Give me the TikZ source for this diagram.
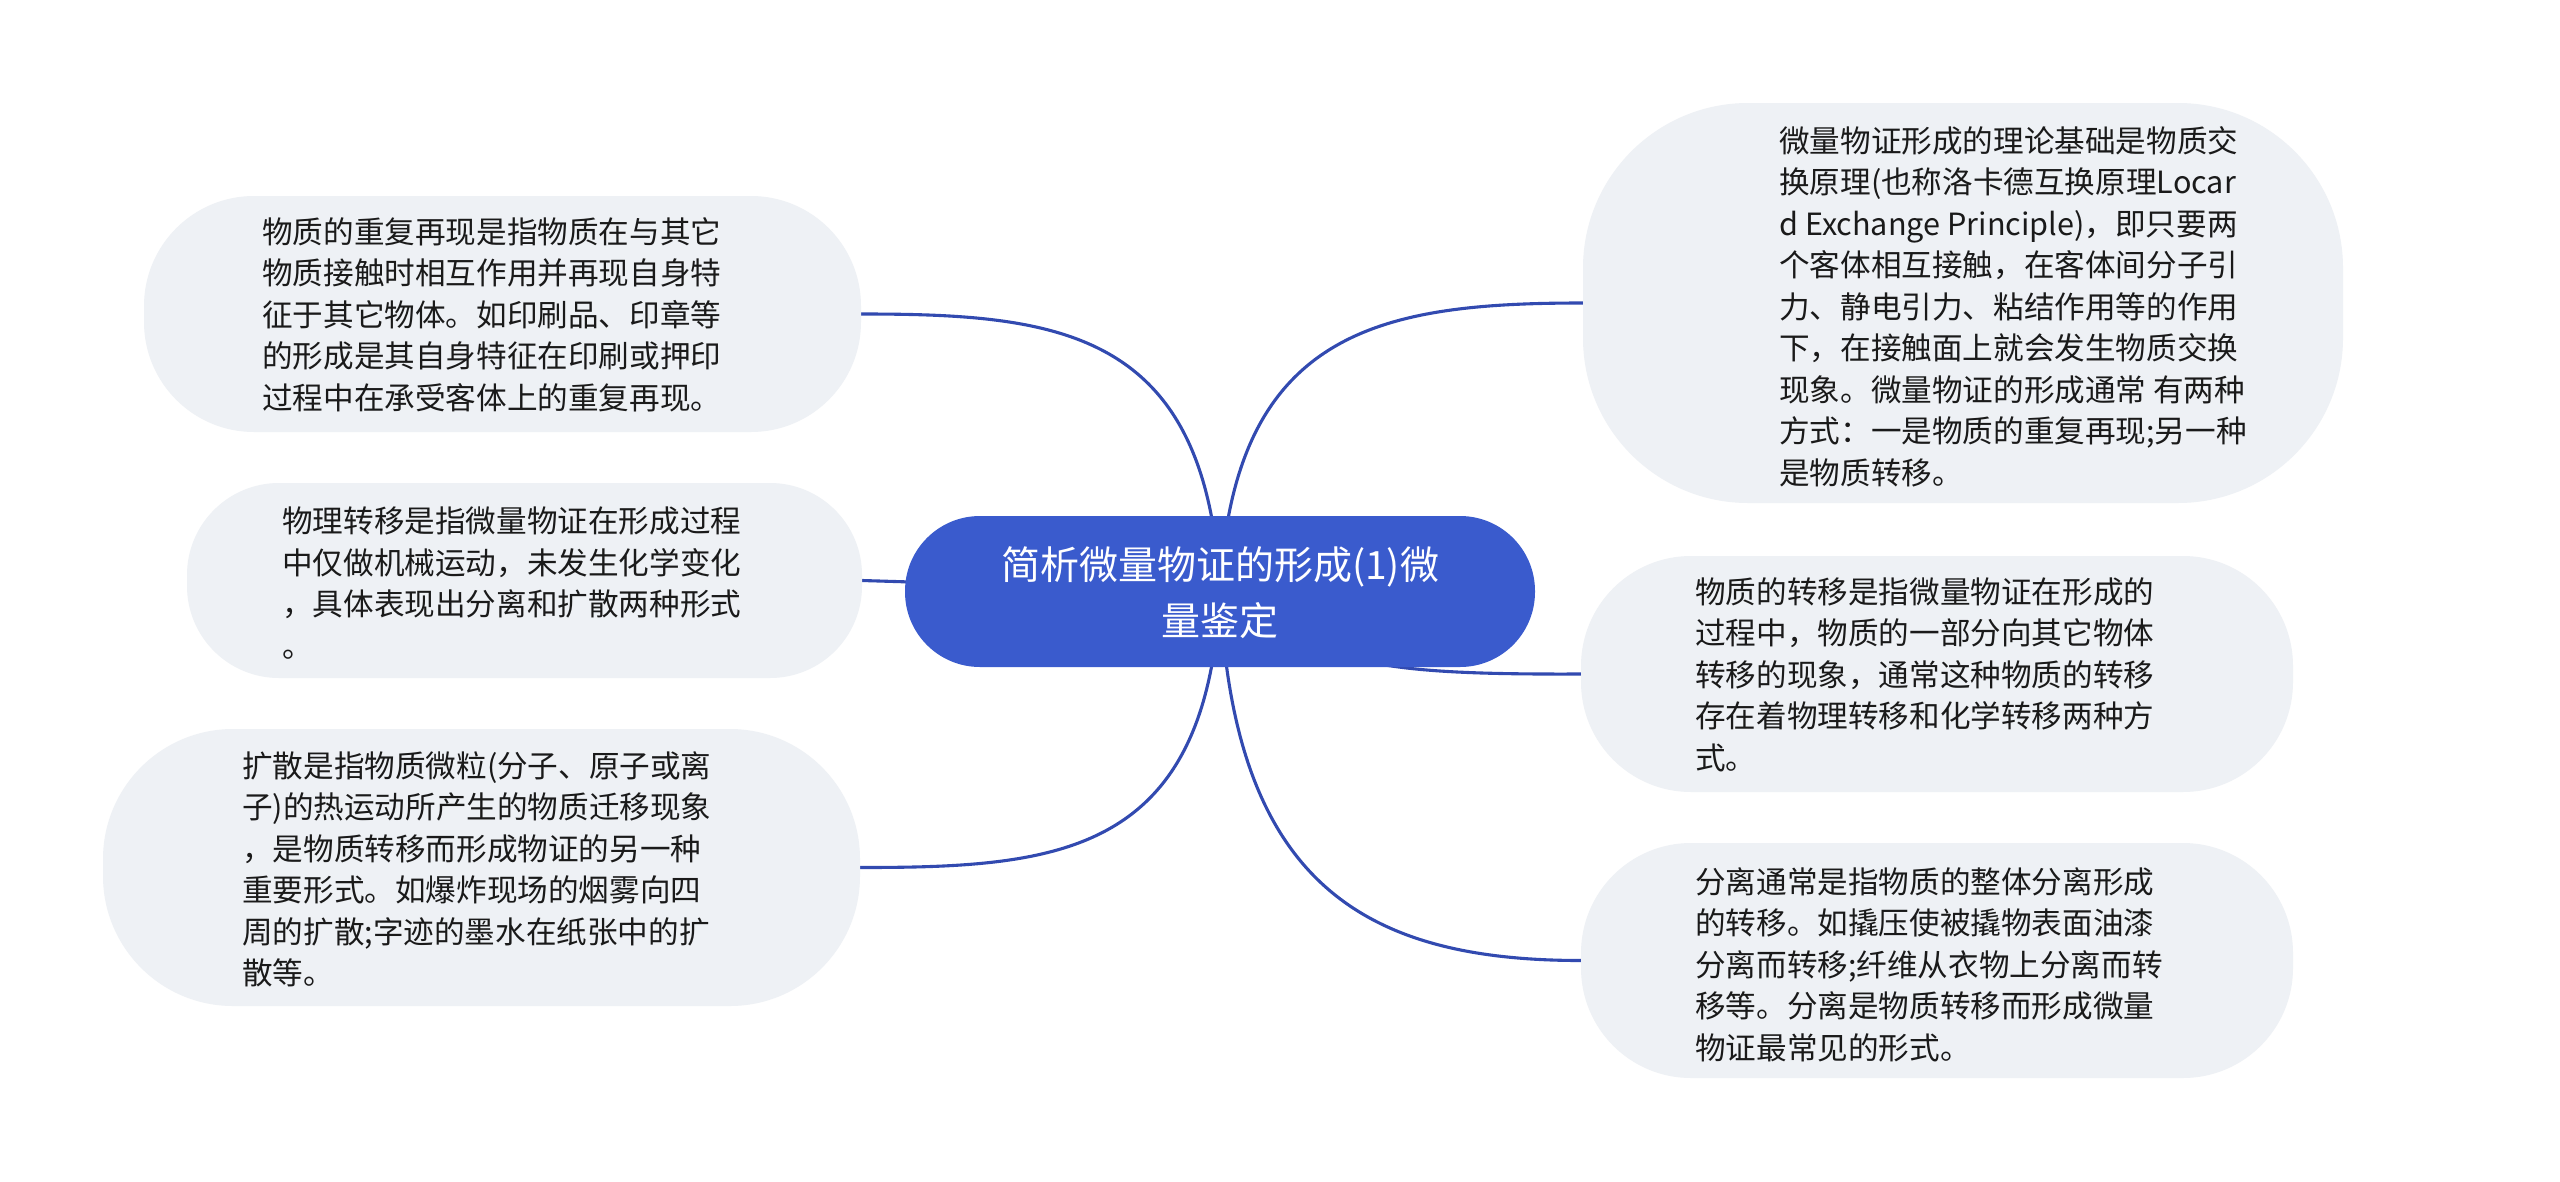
\documentclass[tikz,border=0pt]{standalone}
\usepackage{fontspec}
\setmainfont{Noto Sans CJK SC}
\pgfdeclarelayer{bg}
\pgfsetlayers{bg,main}
\definecolor{boxfill}{RGB}{238,241,245}
\definecolor{centerfill}{RGB}{58,91,205}
\definecolor{linkcol}{RGB}{50,74,176}
\definecolor{txt}{RGB}{26,26,26}
\begin{document}
\begin{tikzpicture}[x=1pt,y=-1pt,
  topicbox/.style={draw=none,fill=boxfill,inner sep=0pt,rectangle},
  bodytext/.style={anchor=north west,inner sep=0pt,align=left,text=txt,font=\fontsize{30.6}{41.5}\selectfont},
  link/.style={draw=linkcol,line width=3.1pt}]
\useasboundingbox (0,0) rectangle (2560,1181);
% boxes
\node[topicbox,minimum width=717pt,minimum height=236pt,rounded corners=110pt] (L1) at (502.5,314) {};
\node[topicbox,minimum width=675pt,minimum height=195pt,rounded corners=92pt] (L2) at (524.5,580.5) {};
\node[topicbox,minimum width=757pt,minimum height=277pt,rounded corners=130pt] (L3) at (481.5,867.5) {};
\node[topicbox,minimum width=760pt,minimum height=400pt,rounded corners=165pt] (R1) at (1963,303) {};
\node[topicbox,minimum width=712pt,minimum height=236pt,rounded corners=110pt] (R2) at (1937,674) {};
\node[topicbox,minimum width=712pt,minimum height=235pt,rounded corners=110pt] (R3) at (1937,960.5) {};
\node[fill=centerfill,draw=none,inner sep=0pt,minimum width=630pt,minimum height=151pt,rounded corners=75pt] (C) at (1220,591.5) {};
% texts
\node[text=white,inner sep=0pt,align=center,font=\fontsize{39}{56}\selectfont] (CT) at (1220,593) {简析微量物证的形成(1)微\\量鉴定};
\node[bodytext] (T1) at (262,217) {物质的重复再现是指物质在与其它\\物质接触时相互作用并再现自身特\\征于其它物体。如印刷品、印章等\\的形成是其自身特征在印刷或押印\\过程中在承受客体上的重复再现。};
\node[bodytext] (T2) at (282,507) {物理转移是指微量物证在形成过程\\中仅做机械运动，未发生化学变化\\，具体表现出分离和扩散两种形式\\。};
\node[bodytext] (T3) at (242,751) {扩散是指物质微粒(分子、原子或离\\子)的热运动所产生的物质迁移现象\\，是物质转移而形成物证的另一种\\重要形式。如爆炸现场的烟雾向四\\周的扩散;字迹的墨水在纸张中的扩\\散等。};
\node[bodytext] (T4) at (1779,126) {微量物证形成的理论基础是物质交\\换原理(也称洛卡德互换原理Locar\\d Exchange Principle)，即只要两\\个客体相互接触，在客体间分子引\\力、静电引力、粘结作用等的作用\\下，在接触面上就会发生物质交换\\现象。微量物证的形成通常\ 有两种\\方式：一是物质的重复再现;另一种\\是物质转移。};
\node[bodytext] (T5) at (1695,577) {物质的转移是指微量物证在形成的\\过程中，物质的一部分向其它物体\\转移的现象，通常这种物质的转移\\存在着物理转移和化学转移两种方\\式。};
\node[bodytext] (T6) at (1695,867) {分离通常是指物质的整体分离形成\\的转移。如撬压使被撬物表面油漆\\分离而转移;纤维从衣物上分离而转\\移等。分离是物质转移而形成微量\\物证最常见的形式。};
% connectors
\begin{pgfonlayer}{bg}
\fill[white] (0,0) rectangle (2560,1181);
\draw[link] (C.center) .. controls (1207,330) and (1060,314) .. (L1.east);
\draw[link] (C.center) -- (L2.east);
\draw[link] (C.center) .. controls (1207,855) and (1060,867.5) .. (L3.east);
\draw[link] (C.center) .. controls (1233,330) and (1380,303) .. (R1.west);
\draw[link] (C.center) .. controls (1330,660) and (1350,675) .. (R2.west);
\draw[link] (C.center) .. controls (1233,880) and (1360,960.5) .. (R3.west);
\end{pgfonlayer}
\end{tikzpicture}
\end{document}
